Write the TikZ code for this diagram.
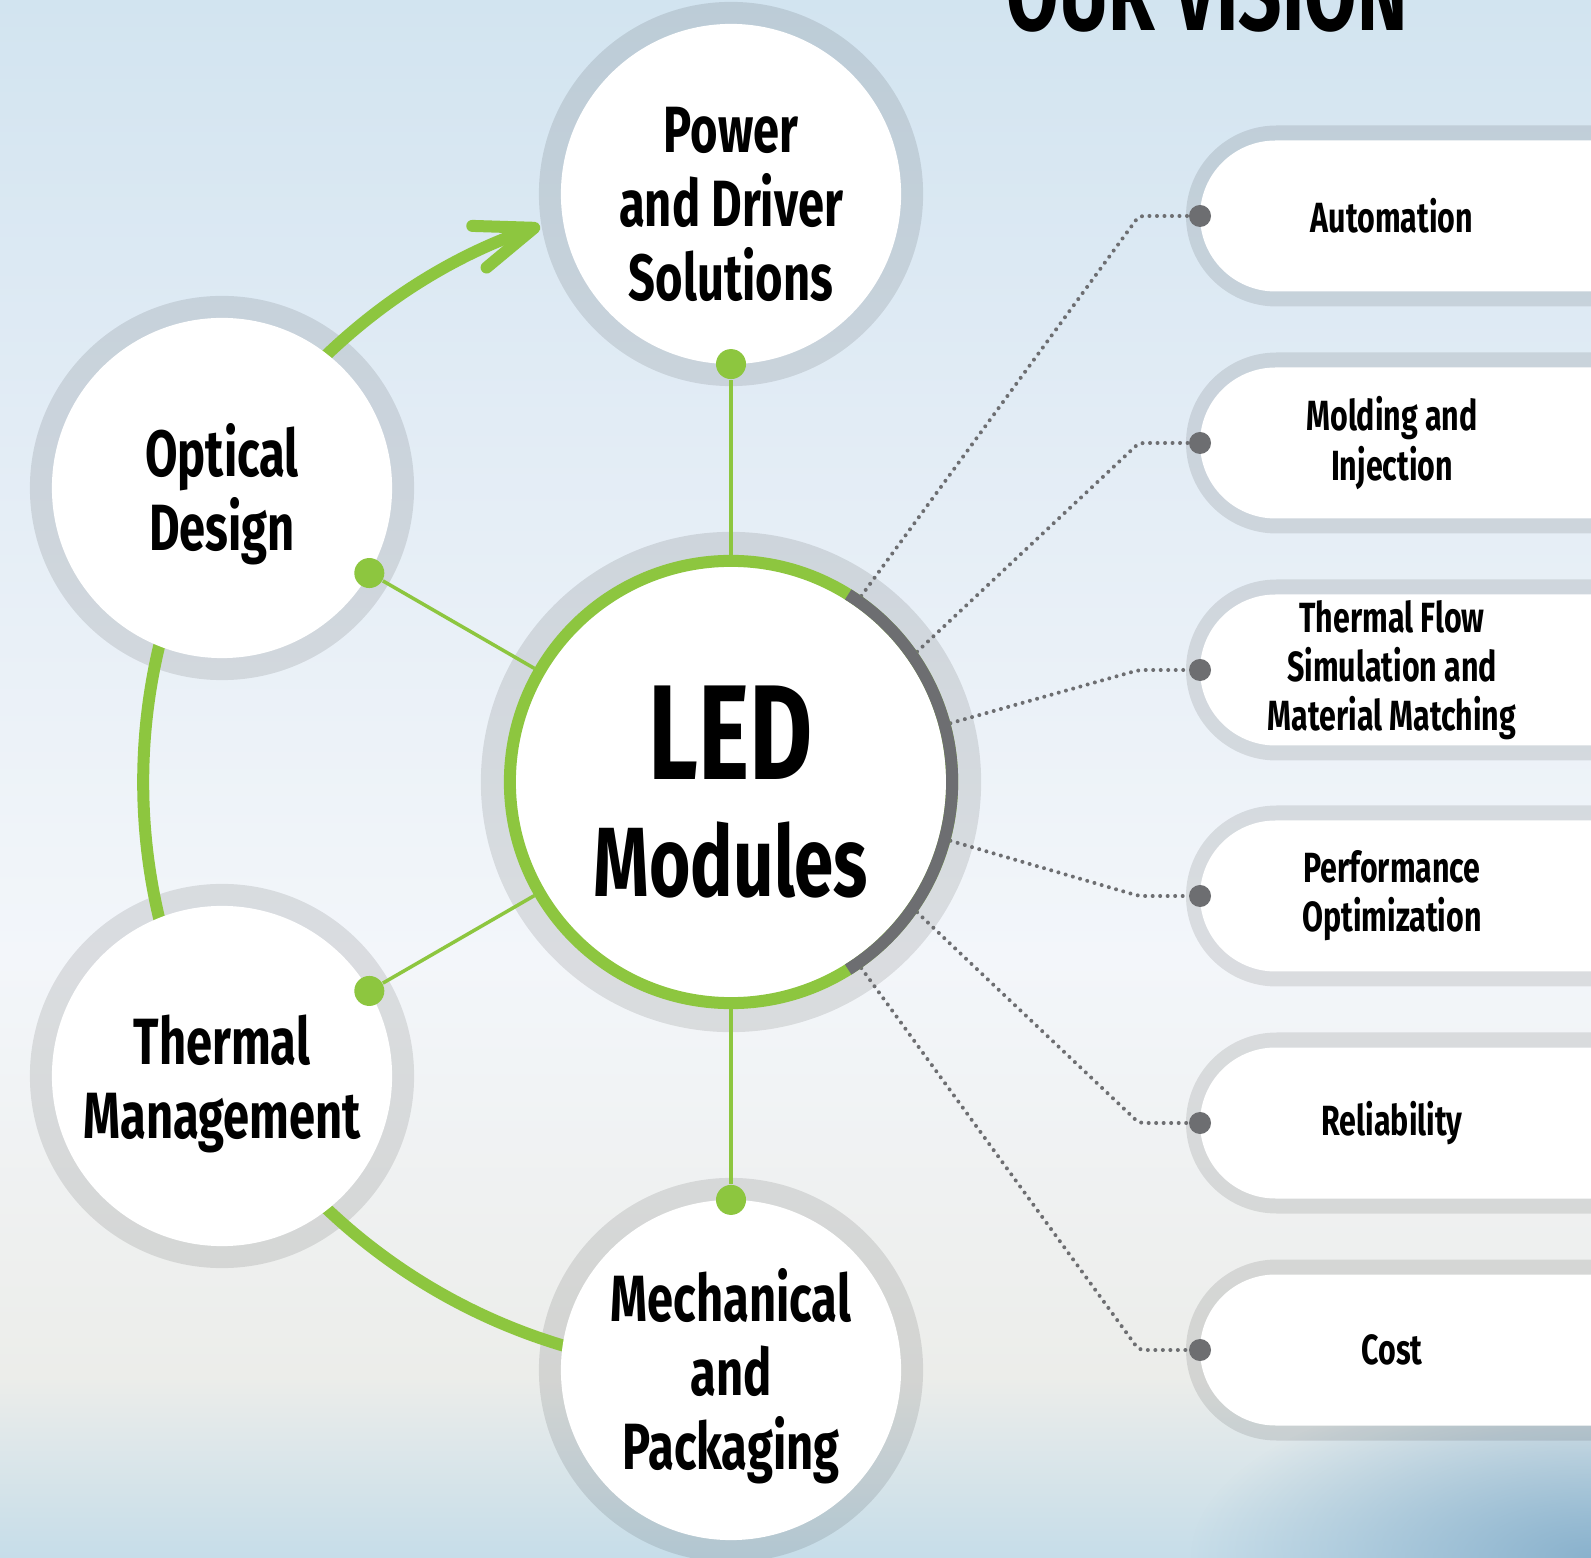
\documentclass[tikz,border=0pt]{standalone}
\usepackage{fontspec}
\setmainfont{Fira Sans}[FakeStretch=0.72]
\usepackage{tikz}
\usetikzlibrary{arrows.meta, positioning, fadings}
\definecolor{mygreen}{RGB}{141,198,63}
\definecolor{mydark}{RGB}{109,110,113}
\definecolor{bgtop}{RGB}{210,228,240}
\definecolor{bgup}{RGB}{226,236,245}
\definecolor{bgmid}{RGB}{243,246,250}
\definecolor{bglow}{RGB}{236,237,234}
\definecolor{bgbot}{RGB}{198,221,233}
\definecolor{bgcorner}{RGB}{138,178,205}
\tikzfading[name=softspot, inner color=transparent!0, outer color=transparent!100]
\pgfdeclarelayer{bg}
\pgfdeclarelayer{mid}
\pgfsetlayers{bg,mid,main}
\tikzset{
  halo/.style={circle, fill=black, fill opacity=0.1, inner sep=0pt, outer sep=0pt},
  satnode/.style={circle, fill=white, minimum size=3.4cm, inner sep=0pt,
    outer sep=0pt, align=center, font=\fontsize{18.6}{21}\selectfont\bfseries},
  ledhub/.style={circle, fill=white, draw=mygreen, line width=0.12cm,
    minimum size=4.42cm, inner sep=0pt, align=center,
    font=\fontsize{28}{33.3}\selectfont\bfseries},
  pill/.style={inner sep=0pt, align=center, font=\fontsize{12}{14}\selectfont\bfseries},
  pillbody/.style={fill=white, rounded corners=0.755cm},
  pillring/.style={fill=black, fill opacity=0.1, rounded corners=0.905cm},
  gdot/.style={circle, fill=mygreen, minimum size=0.3cm, inner sep=0pt},
  pdot/.style={circle, fill=mydark, minimum size=0.22cm, inner sep=0pt},
  link/.style={mygreen, line width=0.035cm},
  cyc/.style={mygreen, line width=0.12cm},
  arrow/.style={cyc, -{Straight Barb[length=0.58cm, width=0.44cm, round]}},
  dotline/.style={mydark, line width=0.04cm, line cap=round,
    dash pattern=on 0pt off 0.075cm, rounded corners=0.05cm},
  title/.style={font=\fontsize{30}{36}\selectfont\bfseries}
}
\newcommand{\toppad}{\rule{0pt}{0.66cm}}
\begin{document}
\begin{tikzpicture}[x=0.01cm, y=0.01cm]
  \useasboundingbox (0,0) rectangle (1591,1557);

  % background
  \begin{pgfonlayer}{bg}
    \fill[top color=bgtop, bottom color=bgup] (0,1137) rectangle (1591,1557);
    \fill[top color=bgup, bottom color=bgmid] (0,600) rectangle (1591,1137);
    \fill[top color=bgmid, bottom color=bglow] (0,180) rectangle (1591,600);
    \fill[top color=bglow, bottom color=bgbot] (0,0) rectangle (1591,180);
    \fill[bgcorner, path fading=softspot] (1591,0) ellipse [x radius=4cm, y radius=1.8cm];
  \end{pgfonlayer}

  \node[title, anchor=base] (ttl) at (1207,1526) {OUR VISION};

  % hub and the four fields
  \node[ledhub] (led) at (731,775) {{\fontsize{38.4}{40}\selectfont LED}\rule{0pt}{1.13cm}\\Modules};
  \draw[mydark, line width=0.12cm] ([shift={(-58:2.21cm)}]led.center) arc[start angle=-58, end angle=58, radius=2.21cm];

  \node[satnode] (pwr) at (731,1363) {\toppad Power\\and Driver\\Solutions};
  \node[satnode] (opt) at (222,1069) {\toppad Optical\\Design};
  \node[satnode] (thm) at (222,481) {\toppad Thermal\\Management};
  \node[satnode] (mec) at (731,187) {\toppad Mechanical\\and\\Packaging};

  \node[gdot] (pwrdot) at (pwr.-90) {};
  \node[gdot] (optdot) at (opt.-30) {};
  \node[gdot] (thmdot) at (thm.30) {};
  \node[gdot] (mecdot) at (mec.90) {};

  \begin{pgfonlayer}{bg}
    \node[halo, minimum size=5cm] at (led) {};
    \foreach \s in {pwr,opt,thm,mec}
      \node[halo, minimum size=3.84cm] at (\s) {};
  \end{pgfonlayer}

  % goals on the right
  \foreach \i/\yy/\txt in {1/1341/Automation, 2/1114/{Molding and\\Injection},
      3/887/{Thermal Flow\\Simulation and\\Material Matching},
      4/661/{Performance\\Optimization}, 5/434/Reliability, 6/207/Cost} {
    \begin{pgfonlayer}{bg}
      \fill[pillring] (1186,\yy-90.5) rectangle (1720,\yy+90.5);
    \end{pgfonlayer}
    \fill[pillbody] (1200,\yy-75.5) rectangle (1720,\yy+75.5);
    \node[pill] (p\i) at (1392,\yy) {\txt};
    \node[pdot] (d\i) at (1200,\yy) {};
  }

  \begin{pgfonlayer}{mid}
    \draw[cyc] (opt.center) arc[start angle=150, end angle=210, radius=5.88cm];
    \draw[cyc] (thm.center) arc[start angle=210, end angle=270, radius=5.88cm];
    \draw[arrow] (opt.center) arc[start angle=150, end angle=109, radius=5.88cm];

    \draw[link] (pwrdot) -- (led);
    \draw[link] (optdot) -- (led);
    \draw[link] (thmdot) -- (led);
    \draw[link] (mecdot) -- (led);

    \foreach \i/\a in {1/55,2/35,3/15,4/-15,5/-35,6/-55}
      \draw[dotline] (led.\a) -- ([xshift=-0.61cm]d\i.center) -- (d\i);
  \end{pgfonlayer}

\end{tikzpicture}
\end{document}
